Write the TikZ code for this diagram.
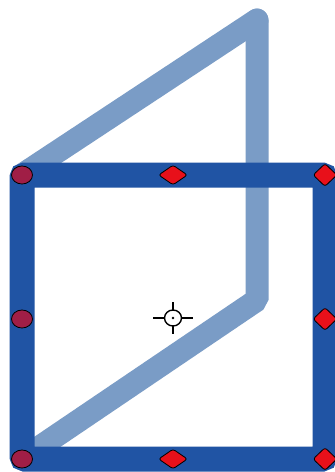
\documentclass[tikz,border=0pt]{standalone}
\usetikzlibrary{shapes.geometric}
\definecolor{framebl}{RGB}{32,84,164}
\definecolor{lightbl}{RGB}{122,156,198}
\definecolor{hred}{RGB}{232,16,26}
\definecolor{hdark}{RGB}{160,30,70}
\tikzset{
  px/.style={x=1pt,y=-1pt},
  frameline/.style={draw=framebl,line width=25pt,rounded corners=3pt},
  lightline/.style={draw=lightbl,line width=23pt,line cap=round,line join=bevel},
  hround/.style={ellipse,draw=black,line width=0.8pt,fill=hdark,minimum width=21pt,minimum height=18pt,inner sep=0pt},
  hwide/.style={diamond,draw=black,line width=0.8pt,fill=hred,minimum width=29pt,minimum height=20pt,inner sep=0pt,aspect=1.5,rounded corners=2.5pt},
  hside/.style={diamond,draw=black,line width=0.8pt,fill=hred,minimum width=24pt,minimum height=23pt,inner sep=0pt,rounded corners=2.5pt},
  crossh/.style={draw=black,line width=1.4pt}
}
\begin{document}
\begin{tikzpicture}[px]
\useasboundingbox (0,0) rectangle (335,472);
\clip (0,0) rectangle (335,472);
\fill[white] (0,0) rectangle (335,472);
% light blue path
\coordinate (bl) at (22,459);
\coordinate (kink) at (257,300);
\coordinate (top) at (257,20);
\coordinate (tl) at (22,175);
\draw[lightline] (bl) -- (kink) -- (top);
\draw[lightline] (top) -- (tl);
% dark frame
\draw[frameline] (22,175) rectangle (325,459);
% handles
\node[hround] (h1) at (22,175) {};
\node[hwide] (h2) at (173,175) {};
\node[hside] (h3) at (325,175) {};
\node[hround] (h4) at (22,319) {};
\node[hside] (h5) at (325,319) {};
\node[hround] (h6) at (22,459) {};
\node[hwide] (h7) at (173,459) {};
\node[hside] (h8) at (325,459) {};
% crosshair
\coordinate (c) at (173,318);
\draw[crossh] (c) ellipse (8.5pt and 8pt);
\draw[crossh] (164.5,318) -- (153,318);
\draw[crossh] (181.5,318) -- (193,318);
\draw[crossh] (173,310) -- (173,302);
\draw[crossh] (173,326) -- (173,334);
\fill[black] (c) circle (1.3pt);
\end{tikzpicture}
\end{document}
